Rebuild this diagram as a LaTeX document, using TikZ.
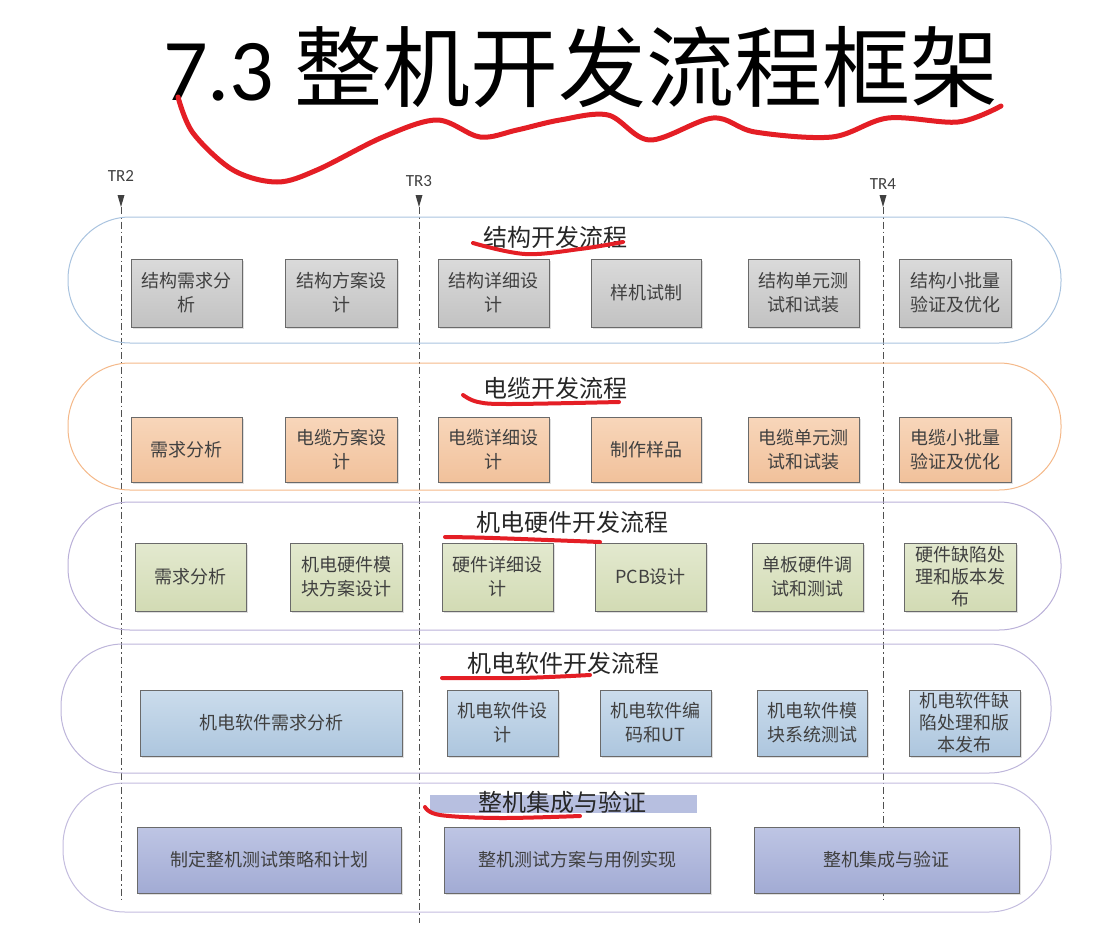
\documentclass[tikz,border=0pt]{standalone}
\usepackage{fontspec}
\setmainfont{Noto Sans CJK SC}
\newfontfamily\latf{Carlito}
\usetikzlibrary{shadows}
\definecolor{boxtext}{HTML}{404040}
\definecolor{boxline}{HTML}{6A6A6A}
\definecolor{trgray}{HTML}{505050}
\definecolor{penred}{HTML}{E41E25}
\definecolor{laneA}{HTML}{A9C3DF}
\definecolor{laneB}{HTML}{F4B889}
\definecolor{laneC}{HTML}{BAB0D8}
\definecolor{laneD}{HTML}{BDB5DA}
\definecolor{laneE}{HTML}{C3BCDE}
\definecolor{grayT}{HTML}{DADADA}
\definecolor{grayB}{HTML}{C2C2C2}
\definecolor{orT}{HTML}{F8D6BA}
\definecolor{orB}{HTML}{F1C19B}
\definecolor{grT}{HTML}{E3E9CF}
\definecolor{grB}{HTML}{D2DBB4}
\definecolor{blT}{HTML}{CBDCEC}
\definecolor{blB}{HTML}{ADC6DE}
\definecolor{lvT}{HTML}{BEC5E4}
\definecolor{lvB}{HTML}{A2ABD4}
\definecolor{barc}{HTML}{B7BFE0}
\newcommand\mkbox[7]{%
  \node[stepbox,#6,minimum width={#4-#2},minimum height={#5-#3}] (#1) at ({(#2+#4)/2},{(#3+#5)/2}) {#7};}
\newcommand\mklane[6]{%
  \node[laneshape,draw=#6,minimum width={#4-#2},minimum height={#5-#3}] (#1) at ({(#2+#4)/2},{(#3+#5)/2}) {};}
\begin{document}
\begin{tikzpicture}[x=1pt,y=-1pt,
  stepbox/.style={draw=boxline,line width=1pt,inner sep=0pt,align=center,
    text=boxtext,font=\fontsize{18}{24}\selectfont,
    drop shadow={shadow xshift=2pt,shadow yshift=-2pt,opacity=0.25,fill=black!50}},
  sgray/.style={top color=grayT,bottom color=grayB},
  sor/.style={top color=orT,bottom color=orB},
  sgr/.style={top color=grT,bottom color=grB},
  sbl/.style={top color=blT,bottom color=blB},
  slv/.style={top color=lvT,bottom color=lvB},
  tight/.style={font=\fontsize{18}{22}\selectfont},
  laneshape/.style={rectangle,line width=1pt,rounded corners=62pt,inner sep=0pt},
  lanetitle/.style={font=\fontsize{24}{28}\selectfont,text=black!85,inner sep=0pt},
  trline/.style={draw=trgray,line width=0.8pt,dash pattern=on 7pt off 3pt on 1.5pt off 3pt},
  trlabel/.style={font=\latf\fontsize{17}{19}\selectfont,text=black!75,inner sep=0pt},
  trmark/.style={fill=black!75},
  pen/.style={draw=penred,line width=4pt,line cap=round,line join=round}
]
\useasboundingbox (0,0) rectangle (1095,945);

% ---- title
\node[anchor=base west,inner sep=0pt,font=\fontsize{88}{90}\selectfont,text=black] (title) at (163,100)
  {{\latf 7.3} 整机开发流程框架};

% ---- TR markers
\foreach \nm/\x/\ly/\ey in {TR2/121/176/902, TR3/419/181/923, TR4/883/184/900}{
  \node[trlabel] (\nm) at (\x,\ly) {\nm};
  \coordinate (\nm top) at (\x,195);
  \coordinate (\nm end) at (\x,\ey);
  \fill[trmark] (\x-3.5,195) -- (\x+3.5,195) -- (\x,207) -- cycle;
  \draw[trline] (\x,207) -- (\nm end);
}

% ---- lanes
\mklane{L1}{68}{217}{1061}{343}{laneA}
\mklane{L2}{68}{363}{1061}{490}{laneB}
\mklane{L3}{68}{502}{1061}{630}{laneC}
\mklane{L4}{61}{644}{1051}{773}{laneD}
\mklane{L5}{63}{783}{1051}{912}{laneE}

% ---- lane titles
\node[lanetitle] (T1) at (555,237) {结构开发流程};
\node[lanetitle] (T2) at (555,388) {电缆开发流程};
\node[lanetitle] (T3) at (572,522) {机电硬件开发流程};
\node[lanetitle] (T4) at (563,663) {机电软件开发流程};
\node[fill=barc,inner sep=0pt,minimum width=267,minimum height=18] (T5bar) at (563.5,804) {};
\node[lanetitle] (T5) at (562,802) {整机集成与验证};

% ---- lane 1 (structure)
\mkbox{a1}{131}{259}{242}{327}{sgray}{结构需求分\\析}
\mkbox{a2}{285}{259}{397}{327}{sgray}{结构方案设\\计}
\mkbox{a3}{438}{259}{549}{327}{sgray}{结构详细设\\计}
\mkbox{a4}{591}{259}{701}{327}{sgray}{样机试制}
\mkbox{a5}{748}{259}{859}{327}{sgray}{结构单元测\\试和试装}
\mkbox{a6}{899}{259}{1011}{327}{sgray}{结构小批量\\验证及优化}

% ---- lane 2 (cable)
\mkbox{b1}{131}{417}{242}{482}{sor}{需求分析}
\mkbox{b2}{285}{417}{397}{482}{sor}{电缆方案设\\计}
\mkbox{b3}{438}{417}{549}{482}{sor}{电缆详细设\\计}
\mkbox{b4}{591}{417}{701}{482}{sor}{制作样品}
\mkbox{b5}{748}{417}{859}{482}{sor}{电缆单元测\\试和试装}
\mkbox{b6}{899}{417}{1011}{482}{sor}{电缆小批量\\验证及优化}

% ---- lane 3 (hardware)
\mkbox{c1}{135}{543}{246}{611}{sgr}{需求分析}
\mkbox{c2}{290}{543}{402}{611}{sgr}{机电硬件模\\块方案设计}
\mkbox{c3}{442}{543}{553}{611}{sgr}{硬件详细设\\计}
\mkbox{c4}{595}{543}{706}{611}{sgr}{PCB设计}
\mkbox{c5}{752}{543}{863}{611}{sgr}{单板硬件调\\试和测试}
\mkbox{c6}{904}{543}{1016}{611}{sgr,tight}{硬件缺陷处\\理和版本发\\布}

% ---- lane 4 (software)
\mkbox{d1}{140}{690}{402}{756}{sbl}{机电软件需求分析}
\mkbox{d2}{447}{690}{558}{756}{sbl}{机电软件设\\计}
\mkbox{d3}{600}{690}{711}{756}{sbl}{机电软件编\\码和UT}
\mkbox{d4}{757}{690}{867}{756}{sbl}{机电软件模\\块系统测试}
\mkbox{d5}{909}{690}{1020}{756}{sbl,tight}{机电软件缺\\陷处理和版\\本发布}

% ---- lane 5 (integration)
\mkbox{e1}{137}{827}{401}{893}{slv}{制定整机测试策略和计划}
\mkbox{e2}{444}{827}{710}{893}{slv}{整机测试方案与用例实现}
\mkbox{e3}{754}{827}{1019}{893}{slv}{整机集成与验证}

% ---- red pen annotations
\draw[pen,line width=5pt] plot[smooth,tension=0.55] coordinates {
  (178,97) (193,133) (233,170) (277,182) (317,170) (383,137) (437,120)
  (480,137) (517,130) (560,120) (608,115) (650,140) (713,118) (755,132)
  (832,137) (888,118) (958,122) (1001,106)};
\draw[pen] plot[smooth,tension=0.6] coordinates {(473,243) (525,254) (580,249) (623,242)};
\draw[pen] plot[smooth,tension=0.6] coordinates {(463,395) (478,402) (510,404) (619,402)};
\draw[pen] plot[smooth,tension=0.6] coordinates {(445,537) (493,538) (600,542)};
\draw[pen] plot[smooth,tension=0.6] coordinates {(442,678) (520,678) (590,675)};
\draw[pen] plot[smooth,tension=0.6] coordinates {(425,807) (440,815) (500,818) (580,816)};
\end{tikzpicture}
\end{document}
